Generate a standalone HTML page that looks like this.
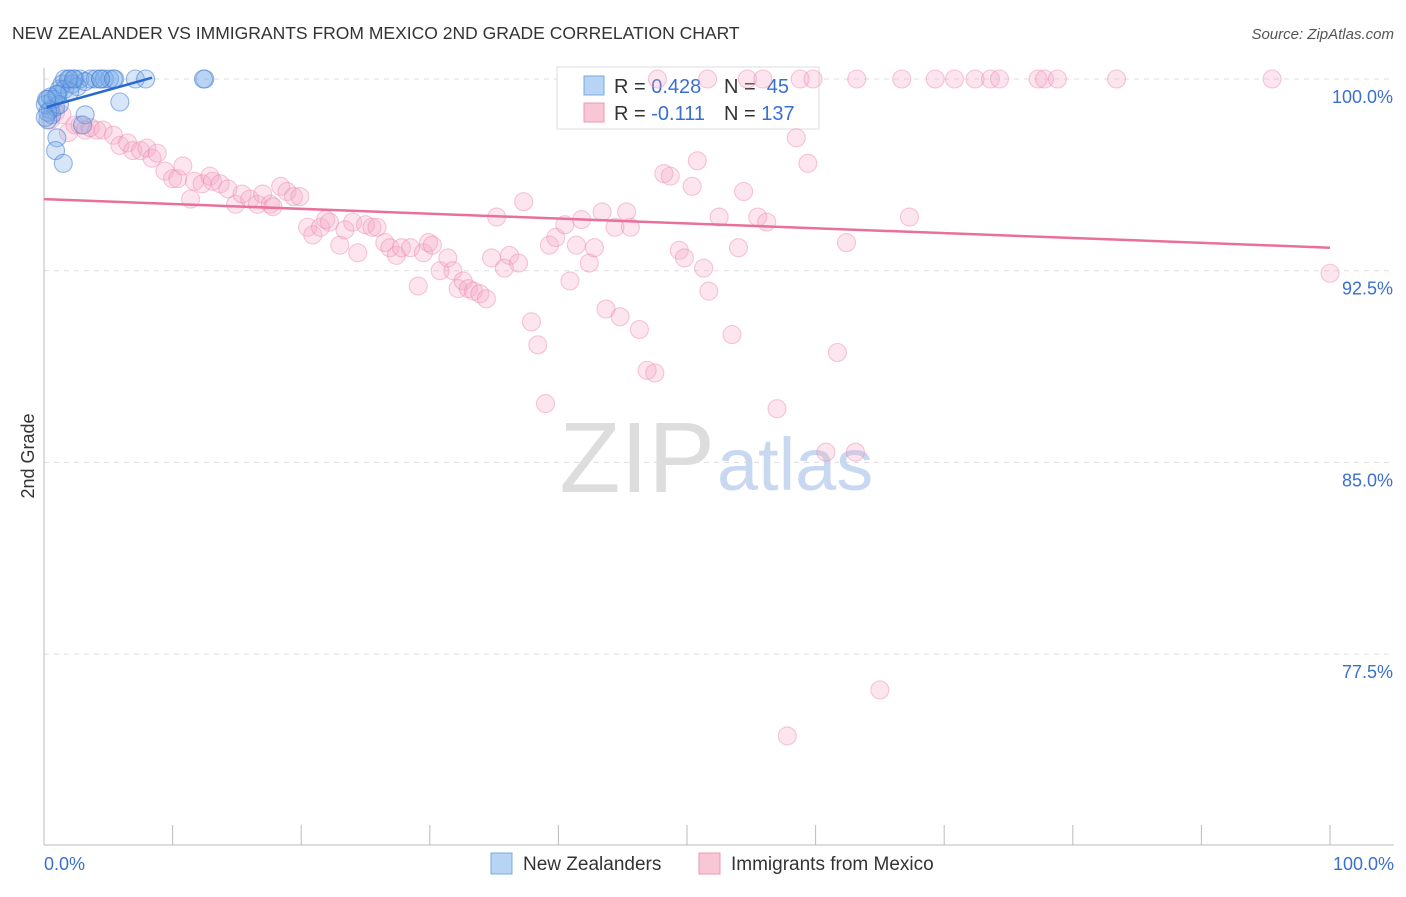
<!DOCTYPE html>
<html><head><meta charset="utf-8"><style>
body{margin:0;background:#fff;font-family:"Liberation Sans",sans-serif;}
svg text{font-family:"Liberation Sans",sans-serif;}
</style></head><body>
<svg id="chart" width="1406" height="892">
<text x="12" y="39" font-size="17.5" fill="#333">NEW ZEALANDER VS IMMIGRANTS FROM MEXICO 2ND GRADE CORRELATION CHART</text>
<text x="1394" y="39" font-size="15" fill="#555" font-style="italic" text-anchor="end">Source: ZipAtlas.com</text>
<text x="0" y="0" font-size="18" fill="#333" text-anchor="middle" transform="translate(34,456) rotate(-90)">2nd Grade</text>
<g id="grid"></g>
<text x="715" y="492" font-size="100" fill="#ddd" text-anchor="end" font-family="Liberation Serif">ZIP</text>
<text x="717" y="490" font-size="74" fill="#c8d8f0">atlas</text>
<g>
<rect x="557" y="67" width="262" height="62" fill="#fff" stroke="#ddd"/>
<rect x="584" y="76" width="20" height="19" fill="#b8d4f4" stroke="#7aa8e0"/>
<rect x="584" y="103" width="20" height="19" fill="#f9c6d6" stroke="#ec9ab6"/>
<text x="614" y="93" font-size="20" fill="#333">R = <tspan fill="#3a6fd0">0.428</tspan></text>
<text x="724" y="93" font-size="20" fill="#333">N = <tspan fill="#3a6fd0">&#160;45</tspan></text>
<text x="614" y="120" font-size="20" fill="#333">R = <tspan fill="#3a6fd0"> -0.111</tspan></text>
<text x="724" y="120" font-size="20" fill="#333">N = <tspan fill="#3a6fd0">137</tspan></text>
</g>
<g id="pts"></g>
<g id="lines"></g>
<g>
<rect x="491" y="853" width="21" height="21" fill="#b8d4f4" stroke="#7aa8e0"/>
<text x="523" y="870" font-size="19" fill="#333">New Zealanders</text>
<rect x="699" y="853" width="21" height="21" fill="#f9c6d6" stroke="#ec9ab6"/>
<text x="731" y="870" font-size="19" fill="#333">Immigrants from Mexico</text>
</g>
<text x="44" y="870" font-size="18" fill="#3a6fd0">0.0%</text>
<text x="1394" y="870" font-size="18" fill="#3a6fd0" text-anchor="end">100.0%</text>
</svg>
<script>
const yTicks=[100,92.5,85,77.5];
const yTickLabels=["100.0%","92.5%","85.0%","77.5%"];
const xTicks=[0,10,20,30,40,50,60,70,80,90,100];
const blueX=[0.3,0.5,0.6,0.9,1.1,1.2,1.4,1.6,2.0,2.4,2.8,3.6,4.0,4.7,5.1,5.5,7.1,7.9,12.5,12.4,5.9,3.2,1.0,0.9,1.5,0.3,0.5,0.1,0.7,1.6,2.2,2.6,3.2,4.4,1.2,0.3,2.0,3.0,0.1,1.0,1.9,2.3,4.4,5.4,0.2];
const blueY=[99.2,98.8,98.6,98.9,99.4,99.6,99.8,100,100,100,100,100,100,100,100,100,100,100,100,100,99.1,98.6,97.7,97.2,96.7,98.4,99.3,99.0,99.2,99.6,99.8,99.7,99.9,100,99.0,98.7,99.5,98.2,98.5,99.4,100,100,100,100,99.2];
const pinkX=[0.5,0.9,1.4,1.9,2.4,2.8,3.2,3.6,4.1,4.6,5.4,5.9,6.5,6.9,7.5,8.0,8.4,8.8,9.4,10.0,10.4,10.8,11.4,11.7,12.3,12.9,13.1,13.7,14.3,14.9,15.4,16.0,16.6,17.0,17.6,17.8,18.4,18.9,19.4,19.9,20.5,20.9,21.5,21.9,22.2,23.0,23.4,24.0,24.4,25.0,25.5,25.9,26.5,26.9,27.4,27.8,28.5,29.1,29.5,29.9,30.2,30.8,31.4,31.8,32.2,32.6,33.0,33.4,33.9,34.4,34.8,35.2,35.8,36.2,36.9,37.3,37.9,38.4,39.0,39.3,39.8,40.5,40.9,41.4,41.8,42.4,42.8,43.4,43.7,44.4,44.8,45.3,45.6,46.3,46.9,47.5,48.2,48.7,49.4,49.8,50.4,50.8,51.3,51.7,52.5,53.5,54.0,54.4,55.5,56.2,57.0,58.5,59.4,60.8,61.7,62.4,63.1,65.0,57.8,67.3,100,47.7,51.6,54.7,55.9,58.8,59.8,63.2,66.7,69.3,70.8,72.4,73.6,74.3,77.3,77.8,78.8,83.4,95.5];
const pinkY=[98.4,98.7,98.6,97.9,98.2,98.2,98.0,98.1,98.0,98.0,97.8,97.4,97.5,97.2,97.2,97.3,96.9,97.1,96.4,96.1,96.1,96.6,95.3,96.0,95.9,96.2,96.0,95.9,95.7,95.1,95.5,95.3,95.1,95.5,95.1,95.0,95.8,95.6,95.4,95.4,94.2,93.9,94.2,94.5,94.4,93.5,94.1,94.4,93.2,94.3,94.2,94.2,93.6,93.4,93.1,93.4,93.4,91.9,93.2,93.6,93.5,92.5,93.0,92.5,91.8,92.1,91.8,91.7,91.6,91.4,93.0,94.6,92.6,93.1,92.8,95.2,90.5,89.6,87.3,93.5,93.8,94.3,92.1,93.5,94.5,92.8,93.4,94.8,91.0,94.2,90.7,94.8,94.2,90.2,88.6,88.5,96.3,96.2,93.3,93.0,95.8,96.8,92.6,91.7,94.6,90.0,93.4,95.6,94.6,94.4,87.1,97.7,96.7,85.4,89.3,93.6,85.4,76.1,74.3,94.6,92.4,100,100,100,100,100,100,100,100,100,100,100,100,100,100,100,100,100,100];
const blueTrend=[[0.2,98.9],[8.4,100.05]];
const pinkTrend=[[0,95.3],[100,93.4]];
const NS="http://www.w3.org/2000/svg";
const sx=v=>44+v*12.86;
const sy=v=>79+(100-v)*25.56;
function mk(tag,attrs,parent){const e=document.createElementNS(NS,tag);for(const k in attrs)e.setAttribute(k,attrs[k]);parent.appendChild(e);return e;}
const grid=document.getElementById('grid');
yTicks.forEach((t,i)=>{
 const l=mk('line',{x1:44,x2:1394,y1:sy(t),y2:sy(t),stroke:'#ddd','stroke-dasharray':'5,5'},grid);
 
 
 const tx=mk('text',{x:1393,y:sy(t)+24,'font-size':18,fill:'#3a6fd0','text-anchor':'end'},grid);
 tx.textContent=yTickLabels[i];
 
 
});
const ya=mk('line',{x1:44,x2:44,y1:68,y2:845,stroke:'#bbb'},grid);


const xa=mk('line',{x1:44,x2:1394,y1:845,y2:845,stroke:'#bbb'},grid);


xTicks.forEach(t=>{
 const l=mk('line',{x1:sx(t),x2:sx(t),y1:825,y2:845,stroke:'#bbb'},grid);
 
 
});
const pts=document.getElementById('pts');
pinkX.forEach((x,i)=>{
 const c=mk('circle',{cx:sx(x),cy:sy(pinkY[i]),r:9,fill:'rgba(246,170,198,0.3)',stroke:'rgba(235,135,170,0.45)','stroke-width':1.1},pts);
 
 
});
blueX.forEach((x,i)=>{
 const c=mk('circle',{cx:sx(x),cy:sy(blueY[i]),r:9,fill:'rgba(120,168,232,0.3)',stroke:'rgba(70,128,212,0.55)','stroke-width':1.1},pts);
 
 
});
const lines=document.getElementById('lines');
const pl=mk('line',{x1:sx(pinkTrend[0][0]),y1:sy(pinkTrend[0][1]),x2:sx(pinkTrend[1][0]),y2:sy(pinkTrend[1][1]),stroke:'#e8709a','stroke-width':2.5},lines);


const bl=mk('line',{x1:sx(blueTrend[0][0]),y1:sy(blueTrend[0][1]),x2:sx(blueTrend[1][0]),y2:sy(blueTrend[1][1]),stroke:'#2a6ad0','stroke-width':2.5},lines);


</script>
</body></html>
